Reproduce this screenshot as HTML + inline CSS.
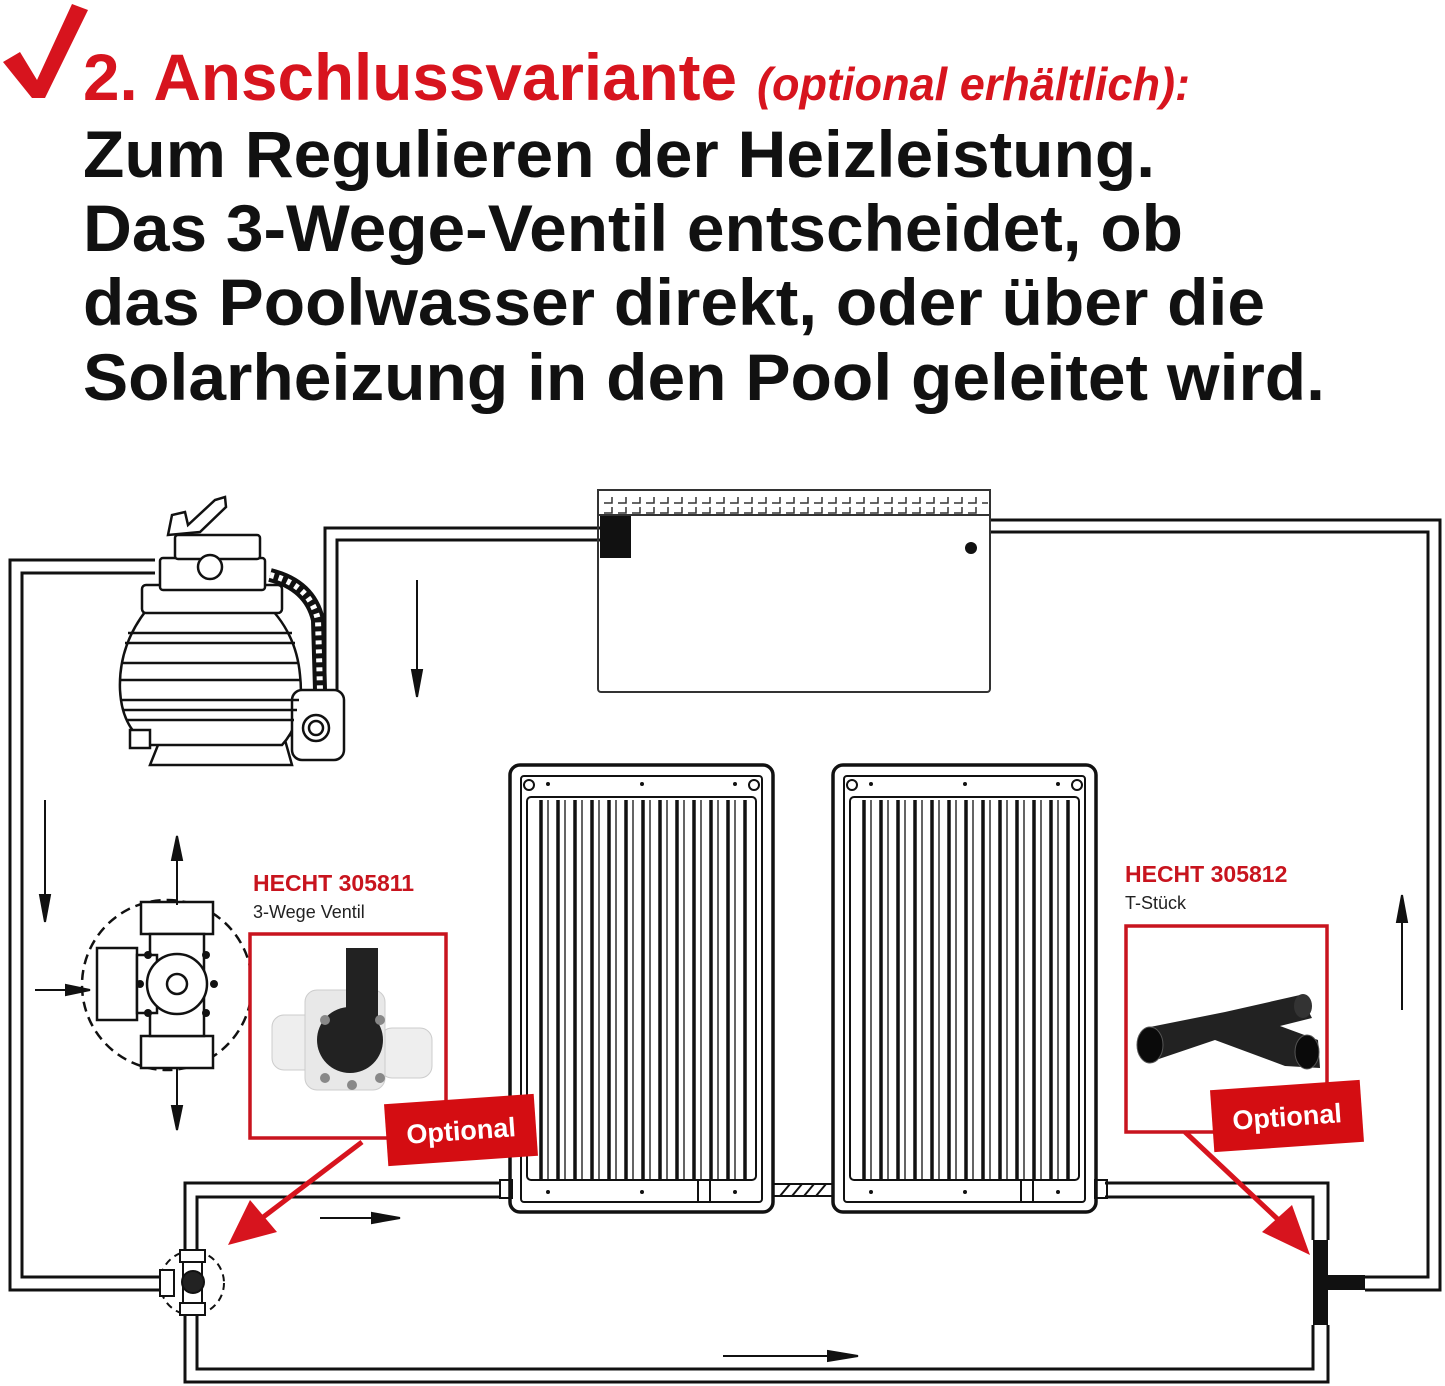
<!DOCTYPE html>
<html><head><meta charset="utf-8"><style>
html,body{margin:0;padding:0;background:#fff;}
svg{display:block;}
text{font-family:"Liberation Sans",sans-serif;}
</style></head><body>
<svg width="1445" height="1386" viewBox="0 0 1445 1386" xmlns="http://www.w3.org/2000/svg">
<rect width="1445" height="1386" fill="#fff"/>
<path d="M3 62 L20 52 L37 80 L72 4 L88 10 L45 98 L32 98 Z" fill="#d7141e"/>
<text x="83" y="100" font-size="66" font-weight="bold" fill="#d7141e" textLength="654" lengthAdjust="spacingAndGlyphs">2. Anschlussvariante</text>
<text x="757" y="100" font-size="46" font-weight="bold" font-style="italic" fill="#d7141e" textLength="433" lengthAdjust="spacingAndGlyphs">(optional erhältlich):</text>
<g font-size="66" font-weight="bold" fill="#111">
<text x="83" y="177" textLength="1072" lengthAdjust="spacingAndGlyphs">Zum Regulieren der Heizleistung.</text>
<text x="83" y="251" textLength="1100" lengthAdjust="spacingAndGlyphs">Das 3-Wege-Ventil entscheidet, ob</text>
<text x="83" y="325" textLength="1182" lengthAdjust="spacingAndGlyphs">das Poolwasser direkt, oder über die</text>
<text x="83" y="400" textLength="1242" lengthAdjust="spacingAndGlyphs">Solarheizung in den Pool geleitet wird.</text>
</g>

<g fill="none" stroke="#111" stroke-width="3">
<polyline points="155,560 10,560 10,1290 160,1290"/>
<polyline points="155,573 22,573 22,1277 160,1277"/>
<polyline points="290,723 325,723 325,528 600,528"/>
<polyline points="290,735 337,735 337,540 600,540"/>
<polyline points="990,520 1440,520 1440,1290 1365,1290"/>
<polyline points="990,532 1428,532 1428,1277 1365,1277"/>
<polyline points="185,1252 185,1183 500,1183"/>
<polyline points="197,1252 197,1197 500,1197"/>
<polyline points="185,1315 185,1382 1328,1382 1328,1325"/>
<polyline points="197,1315 197,1369 1313,1369 1313,1325"/>
<polyline points="1105,1183 1328,1183 1328,1240"/>
<polyline points="1105,1197 1313,1197 1313,1240"/>
<rect x="773" y="1184" width="60" height="12" stroke-width="2"/>
<path d="M780 1196 L790 1184 M792 1196 L802 1184 M804 1196 L814 1184 M816 1196 L826 1184" stroke-width="2"/>
<rect x="500" y="1180" width="12" height="18" stroke-width="2"/>
<rect x="1095" y="1180" width="12" height="18" stroke-width="2"/>
</g>

<g fill="none" stroke="#333" stroke-width="2">
<rect x="598" y="490" width="392" height="202" rx="3"/>
<rect x="598" y="490" width="392" height="25" fill="#fff"/>
<path d="M604 503 h8 v-6 M618 503 h8 v-6 M632 503 h8 v-6 M646 503 h8 v-6 M660 503 h8 v-6 M674 503 h8 v-6 M688 503 h8 v-6 M702 503 h8 v-6 M716 503 h8 v-6 M730 503 h8 v-6 M744 503 h8 v-6 M758 503 h8 v-6 M772 503 h8 v-6 M786 503 h8 v-6 M800 503 h8 v-6 M814 503 h8 v-6 M828 503 h8 v-6 M842 503 h8 v-6 M856 503 h8 v-6 M870 503 h8 v-6 M884 503 h8 v-6 M898 503 h8 v-6 M912 503 h8 v-6 M926 503 h8 v-6 M940 503 h8 v-6 M954 503 h8 v-6 M968 503 h8 v-6 M982 503 h6" stroke-width="1.5"/>
<path d="M604 513 h8 v-6 M618 513 h8 v-6 M632 513 h8 v-6 M646 513 h8 v-6 M660 513 h8 v-6 M674 513 h8 v-6 M688 513 h8 v-6 M702 513 h8 v-6 M716 513 h8 v-6 M730 513 h8 v-6 M744 513 h8 v-6 M758 513 h8 v-6 M772 513 h8 v-6 M786 513 h8 v-6 M800 513 h8 v-6 M814 513 h8 v-6 M828 513 h8 v-6 M842 513 h8 v-6 M856 513 h8 v-6 M870 513 h8 v-6 M884 513 h8 v-6 M898 513 h8 v-6 M912 513 h8 v-6 M926 513 h8 v-6 M940 513 h8 v-6 M954 513 h8 v-6 M968 513 h8 v-6" stroke-width="1.5"/>
</g>
<rect x="600" y="516" width="31" height="42" fill="#111"/>
<circle cx="971" cy="548" r="6" fill="#111"/>

<!-- pump/filter -->
<g fill="#fff" stroke="#111" stroke-width="2.5">
<path d="M270 575 Q310 585 318 620 L320 690" fill="none" stroke-width="14"/>
<path d="M270 575 Q310 585 318 620 L320 690" fill="none" stroke="#fff" stroke-width="6" stroke-dasharray="4 5"/>
<path d="M150 765 L160 740 L285 740 L292 765 Z"/>
<path d="M155 600 Q118 640 120 690 Q122 730 150 745 L282 745 Q305 720 300 675 Q296 630 262 600 Z"/>
<rect x="142" y="585" width="140" height="28" rx="4"/>
<rect x="160" y="558" width="105" height="32" rx="3"/>
<rect x="175" y="535" width="85" height="24" rx="3"/>
<path d="M168 535 L172 515 L185 512 L188 525 L215 500 L225 497 L226 507 L200 532 Z"/>
<circle cx="210" cy="567" r="12"/>
<rect x="292" y="690" width="52" height="70" rx="10"/>
<circle cx="316" cy="728" r="13"/>
<circle cx="316" cy="728" r="7"/>
<rect x="130" y="730" width="20" height="18"/>
</g>
<g stroke="#111" stroke-width="2.5">
<line x1="128" y1="633" x2="292" y2="633"/><line x1="125" y1="643" x2="295" y2="643"/>
<line x1="121" y1="663" x2="299" y2="663"/><line x1="120" y1="680" x2="300" y2="680"/>
<line x1="121" y1="700" x2="299" y2="700"/><line x1="123" y1="710" x2="297" y2="710"/>
<line x1="126" y1="720" x2="294" y2="720"/>
</g>

<g fill="none" stroke="#111">
<rect x="510" y="765" width="263" height="447" rx="10" stroke-width="3.5"/>
<rect x="521" y="776" width="241" height="426" rx="3" stroke-width="2"/>
<rect x="527" y="797" width="229" height="383" rx="4" stroke-width="2"/>
<rect x="833" y="765" width="263" height="447" rx="10" stroke-width="3.5"/>
<rect x="844" y="776" width="241" height="426" rx="3" stroke-width="2"/>
<rect x="850" y="797" width="229" height="383" rx="4" stroke-width="2"/>
<circle cx="529" cy="785" r="5" stroke-width="2"/><circle cx="754" cy="785" r="5" stroke-width="2"/>
<circle cx="852" cy="785" r="5" stroke-width="2"/><circle cx="1077" cy="785" r="5" stroke-width="2"/>
<path d="M698 1180 V1202 M710 1180 V1202 M1021 1180 V1202 M1033 1180 V1202" stroke-width="2"/>
</g>
<g stroke="#111" stroke-width="3.5">
<path d="M541 800 V1180 M558 800 V1180 M575 800 V1180 M592 800 V1180 M609 800 V1180 M626 800 V1180 M643 800 V1180 M660 800 V1180 M677 800 V1180 M694 800 V1180 M711 800 V1180 M728 800 V1180 M745 800 V1180"/>
<path d="M864 800 V1180 M881 800 V1180 M898 800 V1180 M915 800 V1180 M932 800 V1180 M949 800 V1180 M966 800 V1180 M983 800 V1180 M1000 800 V1180 M1017 800 V1180 M1034 800 V1180 M1051 800 V1180 M1068 800 V1180"/>
</g>
<g stroke="#111" stroke-width="1.3">
<path d="M548 800 V1180 M565 800 V1180 M582 800 V1180 M599 800 V1180 M616 800 V1180 M633 800 V1180 M650 800 V1180 M667 800 V1180 M684 800 V1180 M701 800 V1180 M718 800 V1180 M735 800 V1180"/>
<path d="M871 800 V1180 M888 800 V1180 M905 800 V1180 M922 800 V1180 M939 800 V1180 M956 800 V1180 M973 800 V1180 M990 800 V1180 M1007 800 V1180 M1024 800 V1180 M1041 800 V1180 M1058 800 V1180"/>
</g>
<g fill="#111"><circle cx="548" cy="784" r="2"/><circle cx="642" cy="784" r="2"/><circle cx="735" cy="784" r="2"/>
<circle cx="548" cy="1192" r="2"/><circle cx="642" cy="1192" r="2"/><circle cx="735" cy="1192" r="2"/>
<circle cx="871" cy="784" r="2"/><circle cx="965" cy="784" r="2"/><circle cx="1058" cy="784" r="2"/>
<circle cx="871" cy="1192" r="2"/><circle cx="965" cy="1192" r="2"/><circle cx="1058" cy="1192" r="2"/></g>

<circle cx="167" cy="985" r="85" fill="none" stroke="#111" stroke-width="2.5" stroke-dasharray="10 6"/>
<g fill="#fff" stroke="#111" stroke-width="2.5">
<rect x="141" y="902" width="72" height="32"/>
<rect x="141" y="1036" width="72" height="32"/>
<rect x="150" y="934" width="54" height="102"/>
<rect x="97" y="948" width="40" height="72"/>
<rect x="137" y="955" width="20" height="58"/>
<circle cx="177" cy="984" r="30"/>
<circle cx="177" cy="984" r="10"/>
</g>
<g fill="#111"><circle cx="148" cy="955" r="4"/><circle cx="206" cy="955" r="4"/><circle cx="148" cy="1013" r="4"/><circle cx="206" cy="1013" r="4"/><circle cx="140" cy="984" r="4"/><circle cx="214" cy="984" r="4"/></g>

<circle cx="192" cy="1283" r="32" fill="none" stroke="#111" stroke-width="2" stroke-dasharray="7 5"/>
<g fill="#fff" stroke="#111" stroke-width="2">
<rect x="180" y="1250" width="25" height="12"/><rect x="180" y="1303" width="25" height="12"/>
<rect x="183" y="1262" width="19" height="41"/><rect x="160" y="1270" width="14" height="26"/>
<circle cx="193" cy="1282" r="11" fill="#222"/></g>

<rect x="1313" y="1240" width="15" height="85" fill="#111"/>
<rect x="1328" y="1275" width="37" height="15" fill="#111"/>

<g stroke="#111" stroke-width="2" fill="#111">
<line x1="45" y1="800" x2="45" y2="915"/><path d="M40 895 L45 922 L50 895 Z"/>
<line x1="417" y1="580" x2="417" y2="695"/><path d="M412 670 L417 697 L422 670 Z"/>
<line x1="1402" y1="1010" x2="1402" y2="898"/><path d="M1397 922 L1402 895 L1407 922 Z"/>
<line x1="320" y1="1218" x2="400" y2="1218"/><path d="M372 1213 L400 1218 L372 1223 Z"/>
<line x1="723" y1="1356" x2="858" y2="1356"/><path d="M828 1351 L858 1356 L828 1361 Z"/>
<line x1="177" y1="905" x2="177" y2="838"/><path d="M172 860 L177 836 L182 860 Z"/>
<line x1="177" y1="1068" x2="177" y2="1130"/><path d="M172 1106 L177 1130 L182 1106 Z"/>
<line x1="35" y1="990" x2="88" y2="990"/><path d="M66 985 L90 990 L66 995 Z"/>
</g>

<text x="253" y="891" font-size="23" font-weight="bold" fill="#c8141e">HECHT 305811</text>
<text x="253" y="918" font-size="18" fill="#222">3-Wege Ventil</text>
<text x="1125" y="882" font-size="23" font-weight="bold" fill="#c8141e">HECHT 305812</text>
<text x="1125" y="909" font-size="18" fill="#222">T-Stück</text>

<rect x="250" y="934" width="196" height="204" fill="#fff" stroke="#c8141e" stroke-width="3.5"/>
<rect x="1126" y="926" width="201" height="206" fill="#fff" stroke="#c8141e" stroke-width="3.5"/>
<g>
<rect x="272" y="1015" width="50" height="55" rx="12" fill="#eee" stroke="#ccc"/>
<rect x="380" y="1028" width="52" height="50" rx="12" fill="#eee" stroke="#ccc"/>
<rect x="305" y="990" width="80" height="100" rx="12" fill="#e8e8e8" stroke="#ccc"/>
<circle cx="350" cy="1040" r="33" fill="#222"/>
<rect x="346" y="948" width="32" height="80" fill="#222"/>
<circle cx="325" cy="1020" r="5" fill="#888"/><circle cx="380" cy="1020" r="5" fill="#888"/><circle cx="325" cy="1078" r="5" fill="#888"/><circle cx="352" cy="1085" r="5" fill="#888"/><circle cx="380" cy="1078" r="5" fill="#888"/>
</g>
<g>
<path d="M1145 1028 L1225 1012 L1300 995 L1312 1018 L1280 1026 L1318 1040 L1320 1068 L1285 1066 L1215 1040 L1150 1062 Z" fill="#222"/>
<ellipse cx="1150" cy="1045" rx="13" ry="18" fill="#0a0a0a" stroke="#555"/>
<ellipse cx="1307" cy="1052" rx="12" ry="17" fill="#0a0a0a" stroke="#555"/>
<ellipse cx="1303" cy="1006" rx="9" ry="12" fill="#333"/>
</g>

<g fill="#d7141e" stroke="#d7141e">
<line x1="362" y1="1142" x2="262" y2="1218" stroke-width="5"/>
<path d="M228 1245 L250 1200 L277 1232 Z" stroke="none"/>
<line x1="1185" y1="1132" x2="1285" y2="1226" stroke-width="5"/>
<path d="M1310 1255 L1262 1232 L1292 1205 Z" stroke="none"/>
</g>

<g transform="translate(461,1130) rotate(-4)">
<rect x="-75" y="-31" width="150" height="62" fill="#d40d12"/>
<text x="0" y="10" font-size="27" font-weight="bold" fill="#fff" text-anchor="middle">Optional</text>
</g>
<g transform="translate(1287,1116) rotate(-4)">
<rect x="-75" y="-31" width="150" height="62" fill="#d40d12"/>
<text x="0" y="10" font-size="27" font-weight="bold" fill="#fff" text-anchor="middle">Optional</text>
</g>
</svg>
</body></html>
